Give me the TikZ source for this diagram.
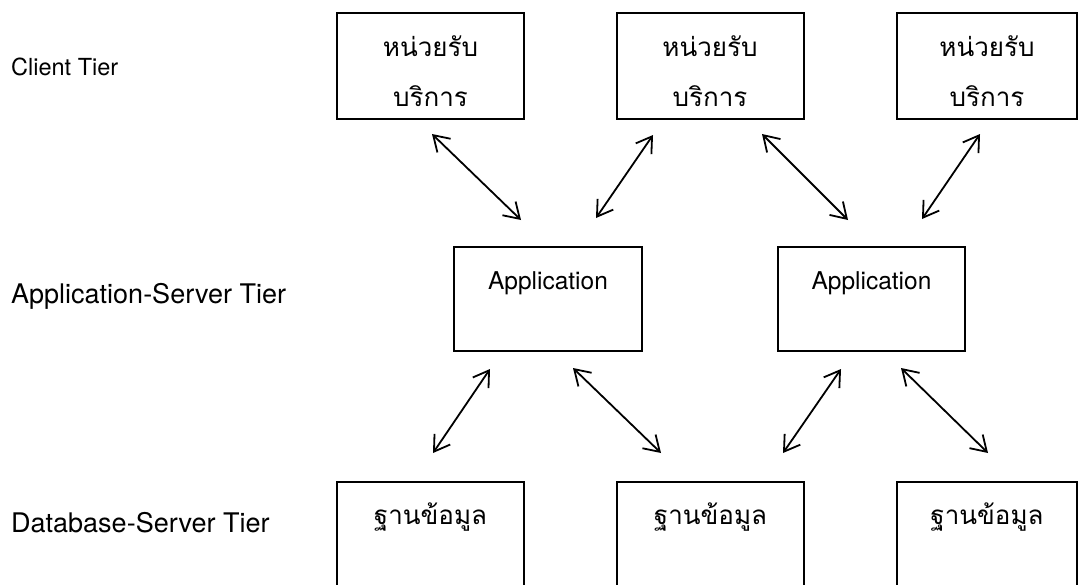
\documentclass[tikz,border=0pt]{standalone}
\usepackage{fontspec}
\newfontfamily\thaifont[Script=Thai]{Loma}
\newfontfamily\tierfont{TeX Gyre Heros}
\usetikzlibrary{arrows.meta,calc}

\tikzset{
  tierbox/.style={draw, line width=2pt, rectangle, inner sep=0pt,
                  minimum width=187pt, minimum height=106pt},
  thaitext/.style={font=\thaifont\fontsize{26}{30}\selectfont, anchor=base, inner sep=0pt},
  apptext/.style={font=\tierfont\fontsize{24.5}{28}\selectfont, anchor=base, inner sep=0pt},
  tierlabel/.style={anchor=base west, inner sep=0pt},
  biarrow/.style={line width=1.8pt,
                  {Straight Barb[length=15pt,width=19pt]}-{Straight Barb[length=15pt,width=19pt]}}
}

\begin{document}
\begin{tikzpicture}[x=1pt,y=-1pt]
  \useasboundingbox (0,0) rectangle (1078,584);
  \clip (0,0) rectangle (1078,584);

  % tier captions
  \node[tierlabel, font=\tierfont\fontsize{23.5}{28}\selectfont] (lc) at (11,75) {Client Tier};
  \node[tierlabel, font=\tierfont\fontsize{27}{32}\selectfont] (la) at (11,303) {Application-Server Tier};
  \node[tierlabel, font=\tierfont\fontsize{27}{32}\selectfont] (ld) at (11,532) {Database-Server Tier};

  % client tier
  \node[tierbox] (c1) at (430.5,66) {};
  \node[tierbox] (c2) at (710,66) {};
  \node[tierbox, minimum width=180pt] (c3) at (987,66) {};
  \foreach \b in {c1,c2,c3} {
    \node[thaitext] (\b a) at ([yshift=-44pt]\b.north) {หน่วยรับ};
    \node[thaitext] (\b b) at ([yshift=-94pt]\b.north) {บริการ};
  }

  % application-server tier
  \node[tierbox, minimum width=188pt, minimum height=104pt] (a1) at (548,299) {};
  \node[tierbox, minimum height=104pt] (a2) at (871.5,299) {};
  \foreach \b in {a1,a2} {
    \node[apptext] (\b t) at ([yshift=-43pt]\b.north) {Application};
  }

  % database-server tier
  \node[tierbox, minimum height=130pt] (d1) at (430.5,547) {};
  \node[tierbox, minimum height=130pt] (d2) at (710.5,547) {};
  \node[tierbox, minimum width=180pt, minimum height=130pt] (d3) at (987,547) {};
  \foreach \b in {d1,d2,d3} {
    \node[thaitext] (\b t) at ([yshift=-43pt]\b.north) {ฐานข้อมูล};
  }

  % client <-> application
  \draw[biarrow] ($(c1.south west)+(96,14)$)   -- ($(a1.north west)+(68,-26)$);
  \draw[biarrow] ($(c2.south west)+(37.5,15)$) -- ($(a1.north west)+(143,-28)$);
  \draw[biarrow] ($(c2.south west)+(146.5,14)$) -- ($(a2.north west)+(71,-26)$);
  \draw[biarrow] ($(c3.south west)+(84,14)$)   -- ($(a2.north west)+(145,-27)$);

  % application <-> database
  \draw[biarrow] ($(a1.south west)+(37,17)$)  -- ($(d1.north west)+(97,-28)$);
  \draw[biarrow] ($(a1.south west)+(120,16)$) -- ($(d2.north west)+(45,-28)$);
  \draw[biarrow] ($(a2.south west)+(64,17)$)  -- ($(d2.north west)+(167,-28)$);
  \draw[biarrow] ($(a2.south west)+(124,16)$) -- ($(d3.north west)+(92,-28)$);
\end{tikzpicture}
\end{document}
